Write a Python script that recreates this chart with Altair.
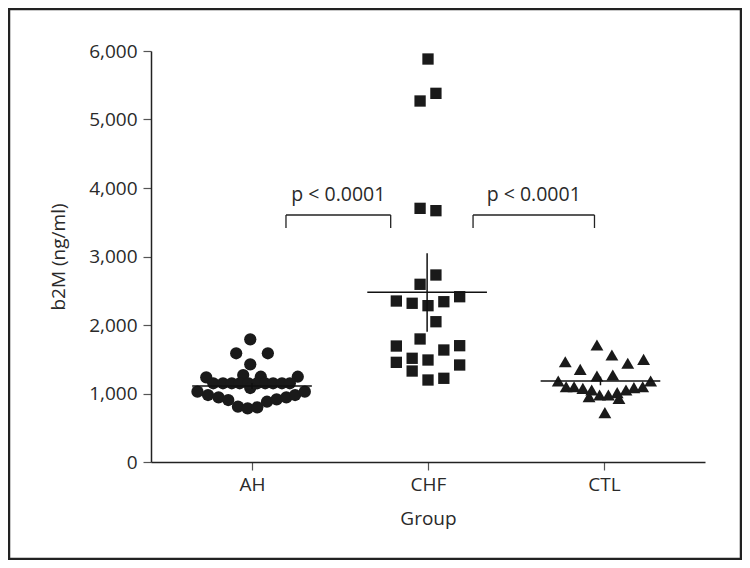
import altair as alt
import pandas as pd

groups = ["AH", "CHF", "CTL"]

# AH: (horizontal jitter offset in group units, value)
ah_offset = [-0.01, -0.09, 0.09, -0.01,
             -0.26, -0.05, 0.05, 0.26,
             -0.22, -0.165, -0.115, -0.07, -0.02, 0.03, 0.075, 0.12, 0.17, 0.215,
             -0.01,
             -0.31, -0.25, -0.19, -0.135, -0.08, -0.025, 0.03, 0.085, 0.14, 0.195, 0.245, 0.30]
ah_value = [1791, 1587, 1587, 1426,
            1236, 1270, 1245, 1245,
            1149, 1149, 1149, 1149, 1149, 1149, 1149, 1149, 1149, 1149,
            1080,
            1027, 978, 944, 905, 808, 784, 798, 880, 915, 944, 978, 1027]

chf_offset = [0.0, -0.045, 0.045, -0.045, 0.045,
              0.045, -0.045, -0.18, -0.09, 0.0, 0.09, 0.18, 0.045, -0.045,
              -0.18, 0.09, 0.18, -0.18, -0.09, 0.0, -0.09, 0.18, 0.0, 0.09]
chf_value = [5883, 5270, 5382, 3703, 3669,
             2730, 2594, 2350, 2317, 2282, 2340, 2413, 2048, 1796,
             1693, 1635, 1698, 1455, 1514, 1489, 1328, 1416, 1197, 1222]

ctl_offset = [-0.04, 0.045, -0.22, 0.135, 0.225, -0.135, -0.04, 0.05, -0.26, 0.265,
              -0.215, -0.17, -0.12, -0.07, 0.22, 0.17, 0.125, 0.075, -0.025, 0.025,
              -0.085, 0.085, 0.005]
ctl_value = [1708, 1562, 1464, 1441, 1499, 1353, 1255, 1270, 1182, 1182,
             1099, 1099, 1075, 1051, 1099, 1085, 1051, 1012, 978, 978,
             954, 929, 720]

# summary lines
mean_value = [1110, 2477, 1183]
err_low = [1065, 1902, 1120]
err_high = [1155, 3047, 1245]
mean_center = [1.0, 1.995, 2.98]

# significance brackets
bracket_x1 = [1.193, 2.256]
bracket_x2 = [1.788, 2.946]
bracket_top = [3606, 3606]
bracket_leg = [3416, 3416]
bracket_label = ["p < 0.0001", "p < 0.0001"]
label_y = [3898, 3898]

y_ticks = [0, 1000, 2000, 3000, 4000, 5000, 6000]

shapes = {"AH": "circle", "CHF": "square", "CTL": "triangle-up"}
marker_size = {"AH": 150, "CHF": 128, "CTL": 165}

rows = []
for g, offs, vals in [("AH", ah_offset, ah_value), ("CHF", chf_offset, chf_value), ("CTL", ctl_offset, ctl_value)]:
    gi = groups.index(g) + 1
    for o, v in zip(offs, vals):
        rows.append({"group": g, "x": gi + o, "value": v})
pts = pd.DataFrame(rows)

summ = pd.DataFrame({
    "group": groups,
    "c": mean_center,
    "x1": [c - 0.34 for c in mean_center],
    "x2": [c + 0.34 for c in mean_center],
    "mean": mean_value,
    "lo": err_low,
    "hi": err_high,
})

br = pd.DataFrame({"x1": bracket_x1, "x2": bracket_x2, "top": bracket_top,
                   "leg": bracket_leg, "label": bracket_label, "ly": label_y})
br["xm"] = (br["x1"] + br["x2"]) / 2

FONT = "Open Sans"
TXT = "#2a2a2a"
xscale = alt.Scale(domain=[0.426, 3.574], nice=False, zero=False)
yscale = alt.Scale(domain=[0, 6000], nice=False)

common = dict(labelFont=FONT, titleFont=FONT, labelFontSize=19, titleFontSize=19,
              labelColor=TXT, titleColor=TXT, titleFontWeight="normal",
              domainColor="#222", domainWidth=1.5, tickColor="#555", tickWidth=1.2,
              tickSize=8, grid=False)
xaxis = alt.Axis(values=[1, 2, 3], labelExpr="['', 'AH', 'CHF', 'CTL'][datum.value]",
                 title="Group", labelPadding=5, titlePadding=15, **common)
yaxis = alt.Axis(values=y_ticks, labelExpr="format(datum.value, ',')",
                 title="b2M (ng/ml)", labelPadding=6, titlePadding=20, **common)


def X(f):
    return alt.X(f, scale=xscale, axis=xaxis)


def Y(f):
    return alt.Y(f, scale=yscale, axis=yaxis)


base_pts = alt.Chart(pts)
layers = []
for g in groups:
    layers.append(
        base_pts.transform_filter(alt.datum.group == g)
        .mark_point(filled=True, shape=shapes[g], size=marker_size[g],
                    color="#1a1a1a", opacity=1, strokeWidth=0)
        .encode(x=X("x:Q"), y=Y("value:Q"))
    )

sc = alt.Chart(summ)
mean_rule = sc.mark_rule(color="#111", strokeWidth=1.5).encode(
    x=X("x1:Q"), x2="x2:Q", y=Y("mean:Q"))
err_rule = sc.mark_rule(color="#111", strokeWidth=1.5).encode(
    x=X("c:Q"), y=Y("lo:Q"), y2="hi:Q")

bc = alt.Chart(br)
br_top = bc.mark_rule(color="#222", strokeWidth=1.3).encode(
    x=X("x1:Q"), x2="x2:Q", y=Y("top:Q"))
br_left = bc.mark_rule(color="#222", strokeWidth=1.3).encode(
    x=X("x1:Q"), y=Y("leg:Q"), y2="top:Q")
br_right = bc.mark_rule(color="#222", strokeWidth=1.3).encode(
    x=X("x2:Q"), y=Y("leg:Q"), y2="top:Q")
br_text = bc.mark_text(font=FONT, fontSize=19.5, color=TXT, baseline="middle").encode(
    x=X("xm:Q"), y=Y("ly:Q"), text="label:N")

frame = alt.Chart(summ.head(1)).mark_rect(fill=None, stroke="#222", strokeWidth=2.5).encode(
    x=alt.value(-142), x2=alt.value(590), y=alt.value(-42), y2=alt.value(508))

chart = alt.layer(*layers, frame, mean_rule, err_rule, br_top, br_left, br_right, br_text).properties(
    width=554, height=411,
    autosize=alt.AutoSizeParams(type="none"),
    padding={"left": 143, "top": 43, "right": 37, "bottom": 98},
).configure_view(stroke=None)

chart.save("out.html", embed_options={"renderer": "svg", "actions": False})
